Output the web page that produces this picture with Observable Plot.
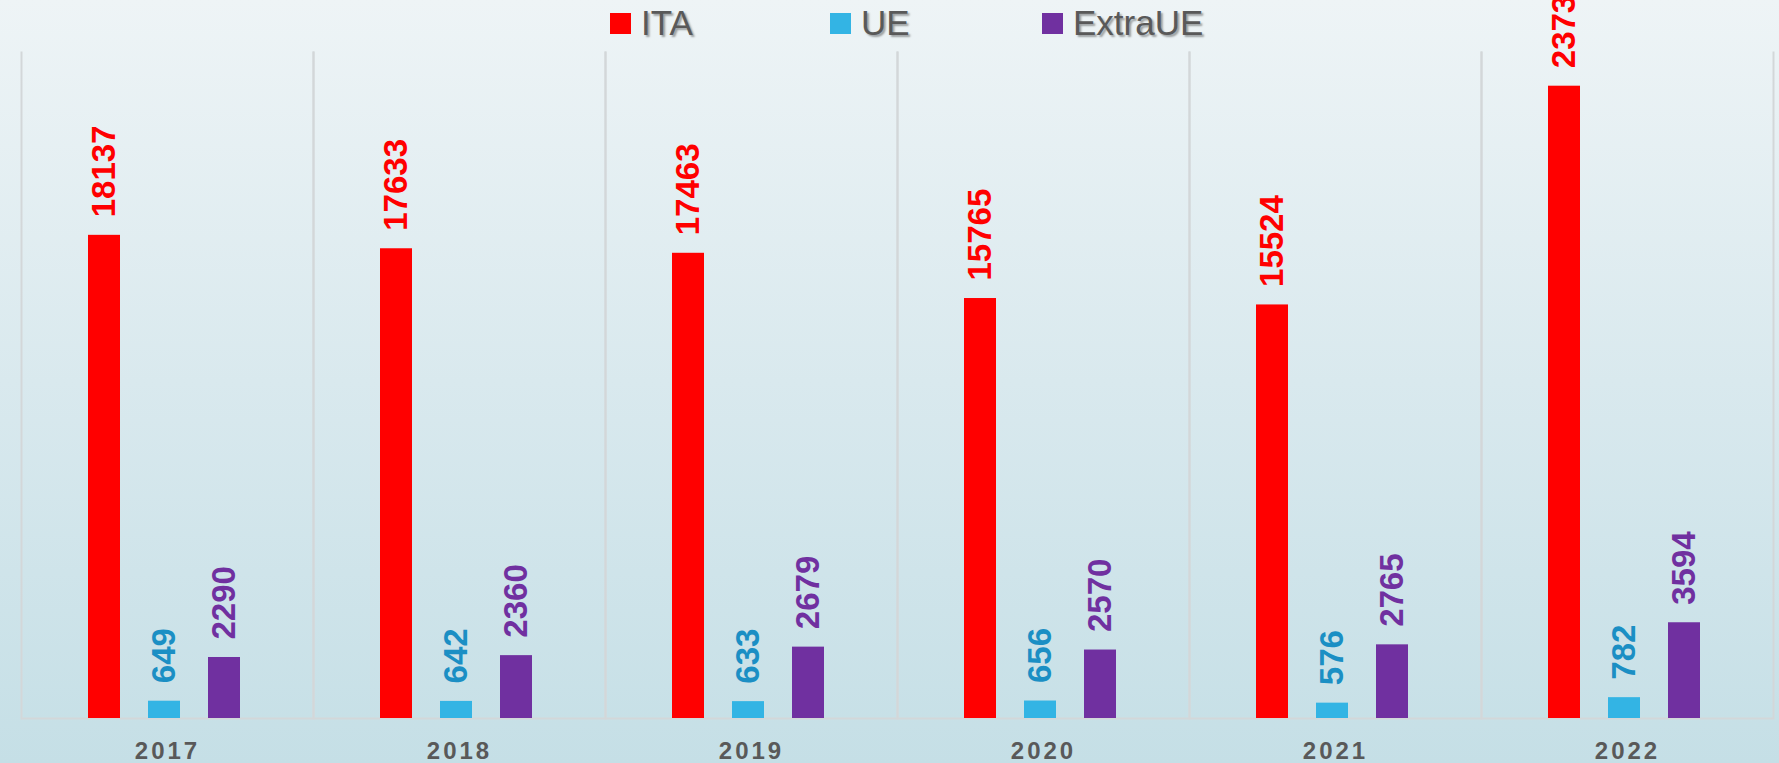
<!DOCTYPE html>
<html>
<head>
<meta charset="utf-8">
<script src="https://cdn.jsdelivr.net/npm/d3@7"></script>
<script src="https://cdn.jsdelivr.net/npm/@observablehq/plot@0.6"></script>
<style>
  html, body { margin: 0; padding: 0; }
  #wrap {
    position: relative; width: 1779px; height: 763px; overflow: hidden;
    background: linear-gradient(to bottom, #eef4f6 0%, #d9e9ee 50%, #c5dfe6 100%);
    font-family: "Liberation Sans", Arial, sans-serif;
  }
  #legend {
    position: absolute; top: 5px; left: 610px; display: flex; align-items: center;
    z-index: 2;
  }
  .item { display: flex; align-items: center; }
  .sw { width: 21px; height: 21px; margin-right: 10px; }
  .lab {
    font-size: 35px; line-height: 36px; color: #595959;
    text-shadow: 2px 2px 2px rgba(0,0,0,0.35);
  }
  #chart { position: absolute; left: 0; top: 0; }
  g[aria-label="fx-axis tick label"] text { letter-spacing: 3px; }
</style>
</head>
<body>
<div id="wrap">
  <div id="legend"></div>
  <div id="chart"></div>
</div>
<script>
const years = ["2017", "2018", "2019", "2020", "2021", "2022"];
const series = ["ITA", "UE", "ExtraUE"];
const ita = [18137, 17633, 17463, 15765, 15524, 23735];
const ue = [649, 642, 633, 656, 576, 782];
const extraUE = [2290, 2360, 2679, 2570, 2765, 3594];
const barColors = ["#ff0000", "#33b4e4", "#7030a0"];
const labelColors = ["#ff0000", "#1b8fc4", "#7030a0"];

const valuesBySeries = [ita, ue, extraUE];
const data = years.flatMap((y, i) =>
  series.map((s, j) => ({year: y, series: s, value: valuesBySeries[j][i]}))
);

// Legend
const legendWidths = [220, 212, null];
const legend = document.getElementById("legend");
series.forEach((s, i) => {
  const item = document.createElement("div");
  item.className = "item";
  if (legendWidths[i]) item.style.width = legendWidths[i] + "px";
  const sw = document.createElement("div");
  sw.className = "sw";
  sw.style.background = barColors[i];
  const lab = document.createElement("span");
  lab.className = "lab";
  lab.textContent = s;
  item.appendChild(sw);
  item.appendChild(lab);
  legend.appendChild(item);
});

const gridColor = "#d3d7d9";
const font = "'Liberation Sans', Arial, sans-serif";

const chart = Plot.plot({
  width: 1779,
  height: 763,
  marginTop: 52,
  marginBottom: 45,
  marginLeft: 19,
  marginRight: 4,
  style: {background: "transparent", fontFamily: font, overflow: "hidden"},
  fx: {domain: years, paddingInner: 0, paddingOuter: 0, label: null},
  x: {domain: series, paddingInner: 0.467, paddingOuter: 1.15, align: 0.48, axis: null},
  y: {domain: [0, 25000], axis: null},
  color: {domain: series, range: barColors},
  marks: [
    Plot.frame({anchor: "left", stroke: gridColor, strokeWidth: 2}),
    Plot.frame({anchor: "right", stroke: gridColor, strokeWidth: 2}),
    Plot.ruleY([0], {stroke: gridColor, strokeWidth: 2}),
    Plot.barY(data, {fx: "year", x: "series", y: "value", fill: "series"}),
    ...series.map((s, i) =>
      Plot.text(data.filter(d => d.series === s), {
        fx: "year", x: "series", y: "value",
        text: d => String(d.value),
        rotate: -90, textAnchor: "start", lineAnchor: "middle", dy: -18,
        fill: labelColors[i], fontSize: 33, fontWeight: "bold", fontFamily: font
      })
    ),
    Plot.axisFx({
      anchor: "bottom",
      tickSize: 0, tickPadding: 23, fontSize: 24, fontWeight: "bold",
      fill: "#595959", label: null, fontFamily: font
    })
  ]
});
document.getElementById("chart").appendChild(chart);
</script>
</body>
</html>
